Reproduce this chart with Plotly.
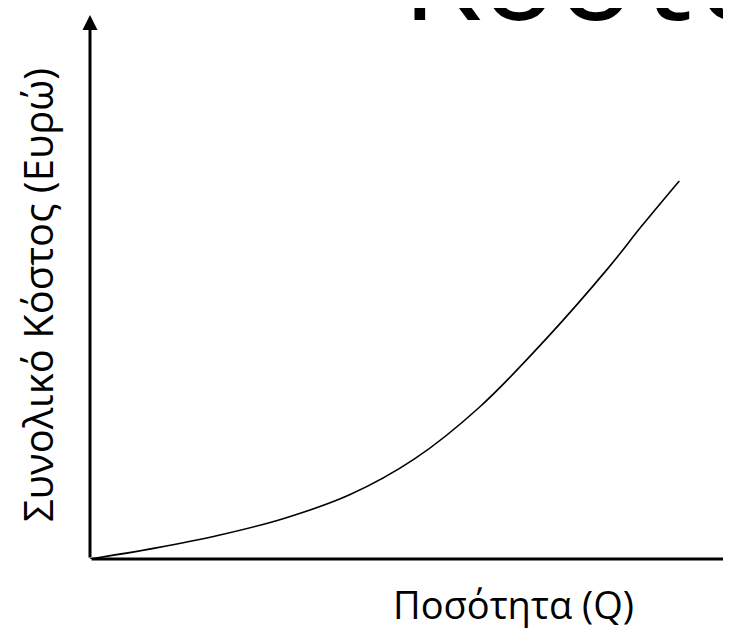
import plotly.graph_objects as go

# Data (abstract units)
quantity = [0, 1, 2, 3, 4, 5, 6, 7, 8, 8.5, 9.08]
total_cost = [0, 0.20, 0.44, 0.75, 1.18, 1.84, 2.79, 4.01, 5.37, 6.12, 6.95]

title_text = "Κόστος"
x_label = "Ποσότητα (Q)"
y_label = "Συνολικό Κόστος (Ευρώ)"

X_MAX = 10
Y_MAX = 10

fig = go.Figure()
fig.add_trace(go.Scatter(
    x=quantity, y=total_cost, mode="lines",
    line=dict(color="black", width=1.6, shape="spline", smoothing=1.0),
    hoverinfo="skip", showlegend=False,
))

# Axes with arrowheads
fig.add_annotation(x=X_MAX, y=0, ax=0, ay=0, xref="x", yref="y", axref="x", ayref="y",
                   showarrow=True, arrowhead=2, arrowsize=1, arrowwidth=3, arrowcolor="black", text="")
fig.add_annotation(x=0, y=Y_MAX, ax=0, ay=0, xref="x", yref="y", axref="x", ayref="y",
                   showarrow=True, arrowhead=2, arrowsize=1, arrowwidth=3, arrowcolor="black", text="")

fig.add_annotation(text=x_label, x=0.652, y=-0.0827, xref="paper", yref="paper",
                   xanchor="center", yanchor="middle", showarrow=False,
                   font=dict(family="Open Sans", size=38, color="black"))
fig.add_annotation(text=y_label, x=-0.081, y=0.486, xref="paper", yref="paper",
                   xanchor="center", yanchor="middle", showarrow=False, textangle=-90,
                   font=dict(family="Open Sans", size=40, color="black"))
fig.add_annotation(text=title_text, x=0.478, y=0.917, xref="paper", yref="paper",
                   xanchor="left", yanchor="bottom", showarrow=False,
                   font=dict(family="Open Sans", size=128, color="black"))

fig.update_xaxes(range=[0, X_MAX], visible=False, fixedrange=True)
fig.update_yaxes(range=[0, Y_MAX], visible=False, fixedrange=True)
fig.update_layout(
    width=731, height=630,
    margin=dict(l=82, r=0, t=7, b=79),
    paper_bgcolor="white", plot_bgcolor="white",
)

fig.write_html("out.html")
